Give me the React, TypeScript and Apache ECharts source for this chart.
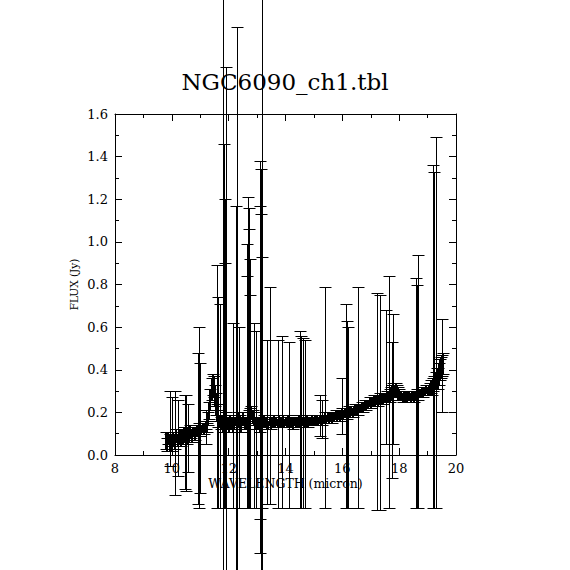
import { useEffect, useRef } from "react";
import * as echarts from "echarts";

const TITLE = "NGC6090_ch1.tbl";
const X_NAME = "WAVELENGTH (micron)";
const Y_NAME = "FLUX (Jy)";
const X_MIN = 8;
const X_MAX = 20;
const X_STEP = 2;
const Y_MIN = 0;
const Y_MAX = 1.6;
const Y_STEP = 0.2;

// [wavelength (micron), flux (Jy), error (Jy)]
const spectrumBlue: [number, number, number][] = [
  [9.8, 0.07, 0.04], [9.84, 0.05, 0.03], [9.88, 0.08, 0.03], [9.92, 0.06, 0.04],
  [9.96, 0.07, 0.03], [10.0, 0.05, 0.03], [10.04, 0.08, 0.03], [10.08, 0.07, 0.03],
  [10.12, 0.06, 0.03], [10.16, 0.09, 0.03], [10.2, 0.07, 0.03], [10.24, 0.08, 0.03],
  [10.28, 0.09, 0.03], [10.32, 0.07, 0.03], [10.36, 0.09, 0.03], [10.4, 0.08, 0.03],
  [10.44, 0.1, 0.03], [10.48, 0.09, 0.03], [10.52, 0.08, 0.03], [10.56, 0.1, 0.03],
  [10.6, 0.09, 0.03], [10.64, 0.11, 0.03], [10.68, 0.1, 0.02], [10.72, 0.09, 0.03],
  [10.76, 0.11, 0.02], [10.8, 0.1, 0.03], [10.84, 0.11, 0.02], [10.88, 0.12, 0.02],
  [10.92, 0.11, 0.02], [10.96, 0.12, 0.03], [11.0, 0.11, 0.02], [11.04, 0.12, 0.02],
  [11.08, 0.13, 0.02], [11.12, 0.12, 0.02], [11.16, 0.13, 0.02], [11.2, 0.14, 0.02],
  [11.24, 0.13, 0.02],
];

const spectrumPah: [number, number, number][] = [
  [11.28, 0.17, 0.03], [11.32, 0.21, 0.04], [11.36, 0.26, 0.05], [11.4, 0.31, 0.05],
  [11.44, 0.33, 0.05], [11.48, 0.32, 0.05], [11.52, 0.28, 0.05], [11.56, 0.24, 0.05],
  [11.6, 0.2, 0.04], [11.64, 0.17, 0.04], [11.68, 0.16, 0.03],
];

const spectrumMid: [number, number, number][] = [
  [11.72, 0.15, 0.03], [11.76, 0.16, 0.03], [11.8, 0.14, 0.03], [11.84, 0.16, 0.03],
  [11.88, 0.15, 0.03], [11.92, 0.17, 0.03], [11.96, 0.15, 0.03], [12.0, 0.14, 0.03],
  [12.04, 0.16, 0.03], [12.08, 0.15, 0.03], [12.12, 0.16, 0.02], [12.16, 0.14, 0.03],
  [12.2, 0.15, 0.03], [12.24, 0.16, 0.02], [12.28, 0.15, 0.03], [12.32, 0.17, 0.03],
  [12.36, 0.15, 0.02], [12.4, 0.16, 0.03], [12.44, 0.14, 0.03], [12.48, 0.16, 0.02],
  [12.52, 0.17, 0.03], [12.56, 0.15, 0.03], [12.6, 0.16, 0.02], [12.64, 0.15, 0.03],
  [12.68, 0.17, 0.03], [12.72, 0.18, 0.03], [12.76, 0.19, 0.03], [12.8, 0.2, 0.03],
  [12.84, 0.18, 0.03], [12.88, 0.17, 0.03], [12.92, 0.16, 0.02], [12.96, 0.15, 0.03],
  [13.0, 0.16, 0.02], [13.04, 0.15, 0.03], [13.08, 0.16, 0.02], [13.12, 0.14, 0.03],
  [13.16, 0.16, 0.02], [13.2, 0.15, 0.02], [13.24, 0.16, 0.03], [13.28, 0.15, 0.02],
  [13.32, 0.16, 0.02], [13.36, 0.15, 0.03], [13.4, 0.14, 0.02], [13.44, 0.16, 0.02],
  [13.48, 0.15, 0.03], [13.52, 0.16, 0.02], [13.56, 0.15, 0.02], [13.6, 0.16, 0.03],
  [13.64, 0.15, 0.02], [13.68, 0.16, 0.02], [13.72, 0.15, 0.02], [13.76, 0.16, 0.03],
  [13.8, 0.15, 0.02], [13.84, 0.16, 0.02], [13.88, 0.15, 0.02], [13.92, 0.16, 0.03],
  [13.96, 0.15, 0.02], [14.0, 0.16, 0.02], [14.04, 0.15, 0.02], [14.08, 0.16, 0.03],
  [14.12, 0.15, 0.02], [14.16, 0.16, 0.02], [14.2, 0.15, 0.02], [14.24, 0.16, 0.02],
  [14.28, 0.15, 0.03], [14.32, 0.16, 0.02], [14.36, 0.15, 0.02], [14.4, 0.16, 0.02],
  [14.44, 0.15, 0.02], [14.48, 0.16, 0.03], [14.52, 0.16, 0.02], [14.56, 0.15, 0.02],
  [14.6, 0.16, 0.02], [14.64, 0.16, 0.02], [14.68, 0.15, 0.02], [14.72, 0.16, 0.02],
  [14.76, 0.16, 0.03], [14.8, 0.15, 0.02], [14.84, 0.16, 0.02], [14.88, 0.16, 0.02],
  [14.92, 0.17, 0.02], [14.96, 0.16, 0.02], [15.0, 0.16, 0.02], [15.04, 0.17, 0.02],
  [15.08, 0.16, 0.02], [15.12, 0.17, 0.02], [15.16, 0.16, 0.02], [15.2, 0.17, 0.02],
  [15.24, 0.17, 0.02], [15.28, 0.16, 0.02], [15.32, 0.17, 0.02], [15.36, 0.17, 0.02],
  [15.4, 0.18, 0.02], [15.44, 0.17, 0.02], [15.48, 0.18, 0.02], [15.52, 0.17, 0.02],
  [15.56, 0.18, 0.02], [15.6, 0.18, 0.02], [15.64, 0.17, 0.02],
];

const spectrumRed: [number, number, number][] = [
  [15.68, 0.18, 0.02], [15.72, 0.18, 0.02], [15.76, 0.19, 0.02], [15.8, 0.18, 0.02],
  [15.84, 0.19, 0.02], [15.88, 0.19, 0.02], [15.92, 0.18, 0.02], [15.96, 0.19, 0.02],
  [16.0, 0.2, 0.02], [16.04, 0.19, 0.02], [16.08, 0.2, 0.02], [16.12, 0.2, 0.02],
  [16.16, 0.19, 0.02], [16.2, 0.2, 0.02], [16.24, 0.21, 0.02], [16.28, 0.2, 0.02],
  [16.32, 0.21, 0.02], [16.36, 0.2, 0.02], [16.4, 0.21, 0.02], [16.44, 0.22, 0.02],
  [16.48, 0.21, 0.02], [16.52, 0.22, 0.02], [16.56, 0.21, 0.02], [16.6, 0.22, 0.02],
  [16.64, 0.22, 0.02], [16.68, 0.23, 0.02], [16.72, 0.22, 0.02], [16.76, 0.23, 0.02],
  [16.8, 0.24, 0.02], [16.84, 0.23, 0.02], [16.88, 0.24, 0.02], [16.92, 0.24, 0.02],
  [16.96, 0.25, 0.02], [17.0, 0.24, 0.02], [17.04, 0.25, 0.02], [17.08, 0.25, 0.02],
  [17.12, 0.26, 0.02], [17.16, 0.25, 0.02], [17.2, 0.26, 0.02], [17.24, 0.25, 0.02],
  [17.28, 0.26, 0.02], [17.32, 0.27, 0.02], [17.36, 0.26, 0.02], [17.4, 0.27, 0.02],
  [17.44, 0.26, 0.02], [17.48, 0.27, 0.02], [17.52, 0.27, 0.02], [17.56, 0.28, 0.02],
  [17.6, 0.27, 0.02], [17.64, 0.28, 0.02], [17.68, 0.28, 0.03], [17.72, 0.29, 0.03],
  [17.76, 0.3, 0.03], [17.8, 0.31, 0.03], [17.84, 0.3, 0.03], [17.88, 0.31, 0.03],
  [17.92, 0.3, 0.03], [17.96, 0.29, 0.03], [18.0, 0.29, 0.02], [18.04, 0.28, 0.02],
  [18.08, 0.28, 0.02], [18.12, 0.27, 0.02], [18.16, 0.28, 0.02], [18.2, 0.27, 0.02],
  [18.24, 0.28, 0.02], [18.28, 0.27, 0.02], [18.32, 0.28, 0.02], [18.36, 0.28, 0.02],
  [18.4, 0.27, 0.02], [18.44, 0.28, 0.02], [18.48, 0.28, 0.02], [18.52, 0.27, 0.02],
  [18.56, 0.28, 0.02], [18.6, 0.28, 0.02], [18.64, 0.29, 0.02], [18.68, 0.28, 0.02],
  [18.72, 0.29, 0.02], [18.76, 0.29, 0.02], [18.8, 0.3, 0.02], [18.84, 0.29, 0.02],
  [18.88, 0.3, 0.02], [18.92, 0.3, 0.02], [18.96, 0.31, 0.02], [19.0, 0.3, 0.02],
  [19.04, 0.31, 0.02], [19.08, 0.31, 0.03], [19.12, 0.32, 0.03], [19.16, 0.31, 0.03],
  [19.2, 0.33, 0.03], [19.24, 0.34, 0.03], [19.28, 0.35, 0.04], [19.32, 0.37, 0.04],
  [19.36, 0.36, 0.05], [19.4, 0.38, 0.05], [19.44, 0.4, 0.05], [19.48, 0.41, 0.05],
  [19.52, 0.42, 0.05], [19.56, 0.43, 0.05],
];

// noisy points: [wavelength (micron), lower end (Jy), upper end (Jy)]
const noisyPoints: [number, number, number][] = [
  [9.95, -0.05, 0.3], [10.02, 0.0, 0.27], [10.1, -0.19, 0.3], [10.22, -0.1, 0.26],
  [10.45, -0.16, 0.28], [10.5, -0.17, 0.28], [10.56, -0.08, 0.24], [10.93, -0.23, 0.48],
  [10.95, -0.25, 0.6], [10.98, -0.18, 0.43], [11.2, 0.05, 0.21],
  [11.59, -0.25, 0.89], [11.62, -0.25, 0.74], [11.68, -0.25, 0.71], [11.8, -2.8, 2.9],
  [11.84, -0.25, 1.46], [11.86, -0.25, 1.2], [11.88, -0.25, 0.9], [11.9, -2.0, 1.82],
  [12.15, -0.25, 0.62], [12.27, -1.0, 1.17], [12.29, -2.0, 2.01], [12.36, -0.25, 0.6],
  [12.64, -0.25, 0.84], [12.66, -0.25, 0.99], [12.68, -0.25, 1.21], [12.7, -0.25, 1.16],
  [12.72, -0.25, 1.06], [12.74, -0.25, 0.92], [12.76, -0.25, 0.75], [12.9, -0.25, 0.62],
  [12.95, -0.25, 0.58], [13.1, -0.3, 1.17], [13.12, -0.46, 1.38], [13.14, -0.6, 1.34],
  [13.15, -0.25, 1.13], [13.17, -2.8, 2.9], [13.18, -0.25, 0.93], [13.35, -0.23, 0.54],
  [13.45, -0.23, 0.79], [13.74, -0.25, 0.54], [13.88, -0.25, 0.56], [14.12, -0.25, 0.53],
  [14.5, -0.25, 0.58], [14.55, -0.25, 0.56], [14.62, -0.25, 0.55], [14.68, -0.25, 0.54],
  [15.2, 0.09, 0.28], [15.3, 0.08, 0.26], [15.39, -0.25, 0.79], [16.0, 0.1, 0.36],
  [16.13, -0.25, 0.71], [16.18, -0.25, 0.63], [16.2, -0.25, 0.6], [16.55, -0.25, 0.79],
  [17.22, -0.26, 0.76], [17.33, -0.26, 0.75], [17.53, 0.05, 0.68], [17.65, -0.25, 0.84],
  [17.75, -0.11, 0.53], [17.78, 0.05, 0.66], [18.58, -0.25, 0.83], [18.62, -0.25, 0.8],
  [18.66, -0.25, 0.94], [19.2, -0.25, 1.36], [19.24, -0.25, 1.33], [19.3, -0.25, 1.49],
  [19.5, 0.2, 0.64],
];

const FONT = "DejaVu Serif";
const CAP = 6;
const capStyle = { stroke: "#000", lineWidth: 1 };

function errorBar(api: any, x: number, lo: number, hi: number, stemWidth: number) {
  const top = api.coord([x, hi]);
  const bot = api.coord([x, lo]);
  const cx = Math.round(top[0]);
  const px = cx + 0.5;
  const yt = Math.round(top[1]) + 0.5;
  const yb = Math.round(bot[1]) + 0.5;
  const sx = stemWidth === 2 ? cx : px;
  return {
    type: "group",
    children: [
      {
        type: "line",
        shape: { x1: sx, y1: yt, x2: sx, y2: yb },
        style: { stroke: "#000", lineWidth: stemWidth },
      },
      { type: "line", shape: { x1: px - CAP, y1: yt, x2: px + CAP, y2: yt }, style: capStyle },
      { type: "line", shape: { x1: px - CAP, y1: yb, x2: px + CAP, y2: yb }, style: capStyle },
    ],
  };
}

const spectrumSeries = (data: [number, number, number][]) => ({
  type: "custom",
  clip: false,
  silent: true,
  encode: { x: 0, y: 1 },
  data,
  renderItem: (_p: any, api: any) => {
    const w = api.value(0);
    const f = api.value(1);
    const e = api.value(2);
    return errorBar(api, w, f - e, f + e, 2);
  },
});

const baseX = {
  type: "value",
  min: X_MIN,
  max: X_MAX,
  interval: X_STEP,
  axisLine: { show: true, onZero: false, lineStyle: { color: "#000", width: 1 } },
  axisTick: { show: true, inside: true, length: 7, lineStyle: { color: "#000" } },
  minorTick: { show: true, splitNumber: 2, length: 4, lineStyle: { color: "#000" } },
  splitLine: { show: false },
};

const baseY = {
  type: "value",
  min: Y_MIN,
  max: Y_MAX,
  interval: Y_STEP,
  axisLine: { show: true, onZero: false, lineStyle: { color: "#000", width: 1 } },
  axisTick: { show: true, inside: true, length: 7, lineStyle: { color: "#000" } },
  minorTick: { show: true, splitNumber: 2, length: 4, lineStyle: { color: "#000" } },
  splitLine: { show: false },
};

export default function App() {
  const ref = useRef<HTMLDivElement>(null);
  useEffect(() => {
    document.body.style.margin = "0";
    if (!ref.current) return;
    const chart = echarts.init(ref.current, null, { renderer: "svg" });
    chart.setOption({
      animation: false,
      backgroundColor: "#fff",
      title: {
        text: TITLE,
        left: "center",
        top: 65,
        textStyle: { fontFamily: FONT, fontSize: 23, fontWeight: "normal", color: "#000" },
      },
      grid: { left: 115, top: 114, width: 341, height: 341 },
      xAxis: [
        {
          ...baseX,
          position: "bottom",
          name: X_NAME,
          nameLocation: "middle",
          nameGap: 22,
          nameMoveOverlap: false,
          nameTextStyle: { fontFamily: FONT, fontSize: 12.5, color: "#000" },
          axisLabel: { color: "#000", fontFamily: FONT, fontSize: 13, margin: 7 },
        },
        { ...baseX, position: "top", axisLabel: { show: false } },
      ],
      yAxis: [
        {
          ...baseY,
          position: "left",
          name: Y_NAME,
          nameLocation: "middle",
          nameGap: 36,
          nameMoveOverlap: false,
          nameTextStyle: { fontFamily: FONT, fontSize: 10.5, color: "#000" },
          axisLabel: {
            color: "#000",
            fontFamily: FONT,
            fontSize: 13,
            margin: 7,
            formatter: (v: number) => v.toFixed(1),
          },
        },
        { ...baseY, position: "right", axisLabel: { show: false } },
      ],
      series: [
        spectrumSeries(spectrumBlue),
        spectrumSeries(spectrumPah),
        spectrumSeries(spectrumMid),
        spectrumSeries(spectrumRed),
        {
          type: "custom",
          clip: false,
          silent: true,
          encode: { x: 0, y: [1, 2] },
          data: noisyPoints,
          renderItem: (_p: any, api: any) =>
            errorBar(api, api.value(0), api.value(1), api.value(2), 1),
        },
      ],
    });
    return () => chart.dispose();
  }, []);
  return <div ref={ref} style={{ width: 570, height: 570 }} />;
}
